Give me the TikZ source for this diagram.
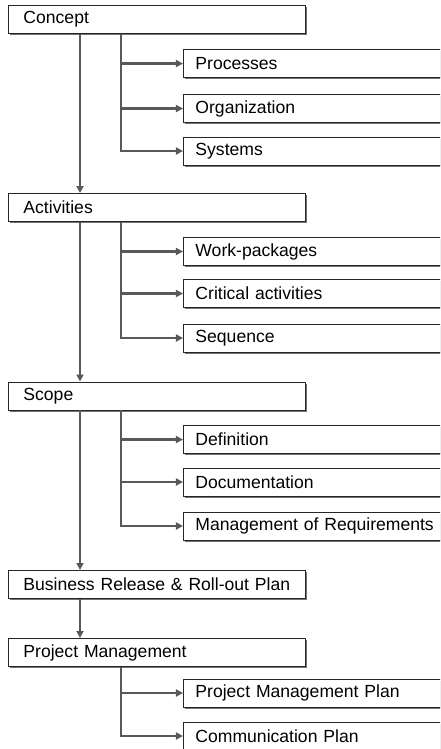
\documentclass[tikz,border=0pt]{standalone}
\usepackage{fontspec}
\setmainfont{Liberation Sans}
\usetikzlibrary{arrows.meta,positioning,shadows}

\begin{document}
\begin{tikzpicture}[>={Triangle[length=6pt,width=6pt]},x=0.03cm,y=-0.03cm,
 font=\fontsize{15}{17}\selectfont,
 mainbox/.style={draw=black!85,fill=white,line width=0.8pt,anchor=west,align=left,
  minimum height=0.84cm,text width=8.01cm,inner xsep=0.45cm,
  drop shadow={shadow xshift=0.05cm,shadow yshift=-0.05cm,fill=black!55,opacity=1}},
 subbox/.style={mainbox,text width=7.38cm,inner xsep=0.36cm},
 link/.style={->,draw=black!65,line width=2.5pt}]
\useasboundingbox (0,0) rectangle (440,749);
\clip (0,0) rectangle (440,749);
\coordinate (trunk) at (80,0);
\coordinate (branch) at (121,0);
% main chain
\node[mainbox] (concept) at (8,19.5) {Concept};
\node[mainbox] (activities) at (8,207.5) {Activities};
\node[mainbox] (scope) at (8,396) {Scope};
\node[mainbox] (release) at (8,584.5) {Business Release \& Roll-out Plan};
\node[mainbox] (pm) at (8,652.5) {Project Management};
% sub items
\node[subbox] (processes) at (183,63.5) {Processes};
\node[subbox] (organization) at (183,108.5) {Organization};
\node[subbox] (systems) at (183,151) {Systems};
\node[subbox] (workpkg) at (183,251.5) {Work-packages};
\node[subbox] (critical) at (183,293.5) {Critical activities};
\node[subbox] (sequence) at (183,338) {Sequence};
\node[subbox] (definition) at (183,439.5) {Definition};
\node[subbox] (documentation) at (183,482) {Documentation};
\node[subbox] (requirements) at (183,526) {Management of Requirements};
\node[subbox] (pmplan) at (183,693) {Project Management Plan};
\node[subbox] (commplan) at (183,736) {Communication Plan};
% trunk arrows
\draw[link] (concept.south -| trunk) -- (activities.north -| trunk);
\draw[link] (activities.south -| trunk) -- (scope.north -| trunk);
\draw[link] (scope.south -| trunk) -- (release.north -| trunk);
\draw[link] (release.south -| trunk) -- (pm.north -| trunk);
% branches
\draw[link] (concept.south -| branch) |- (systems.west);
\draw[link] (branch |- processes) -- (processes.west);
\draw[link] (branch |- organization) -- (organization.west);
\draw[link] (activities.south -| branch) |- (sequence.west);
\draw[link] (branch |- workpkg) -- (workpkg.west);
\draw[link] (branch |- critical) -- (critical.west);
\draw[link] (scope.south -| branch) |- (requirements.west);
\draw[link] (branch |- definition) -- (definition.west);
\draw[link] (branch |- documentation) -- (documentation.west);
\draw[link] (pm.south -| branch) |- (commplan.west);
\draw[link] (branch |- pmplan) -- (pmplan.west);
\end{tikzpicture}
\end{document}
